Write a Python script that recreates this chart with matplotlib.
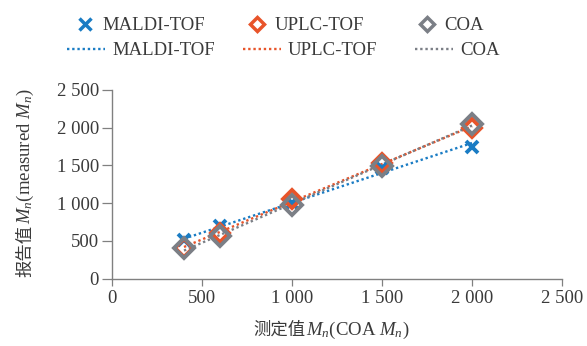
import numpy as np
import matplotlib
matplotlib.use("Agg")
import matplotlib.pyplot as plt
from matplotlib.lines import Line2D

plt.rcParams['font.family'] = ['Liberation Serif', 'Noto Sans CJK SC']
plt.rcParams['mathtext.fontset'] = 'custom'
plt.rcParams['mathtext.rm'] = 'Liberation Serif'
plt.rcParams['mathtext.it'] = 'Liberation Serif:italic'

x = [400, 600, 1000, 1500, 2000]
maldi = [505, 690, 1000, 1470, 1750]
uplc = [410, 600, 1050, 1530, 2000]
coa = [400, 560, 980, 1490, 2050]

ticks = [0, 500, 1000, 1500, 2000, 2500]
tick_labels = ['0', '500', '1 000', '1 500', '2 000', '2 500']
series_names = ['MALDI-TOF', 'UPLC-TOF', 'COA']

c_blue = '#1a7cc4'
c_orange = '#e8542a'
c_gray = '#7b7f86'
txt = '#3a3a3a'
FS = 13.5

W, H = 587, 346
fig = plt.figure(figsize=(W / 100, H / 100), dpi=100)
ax = fig.add_axes([112 / W, 1 - 278.5 / H, 450 / W, 188.5 / H])

ax.plot(x, maldi, linestyle='none', marker='x', markersize=9, mew=2.8,
        color=c_blue, zorder=4)
ax.plot(x, uplc, linestyle='none', marker='D', markersize=9, mew=2.8,
        mfc='none', mec=c_orange, zorder=4)
ax.plot(x, coa, linestyle='none', marker='D', markersize=10, mew=2.8,
        mfc='none', mec=c_gray, zorder=5)

dot = (0, (1, 1.2))
xs = np.array([min(x), max(x)])
for ys, c in [(maldi, c_blue), (uplc, c_orange), (coa, c_gray)]:
    p = np.polyfit(x, ys, 1)
    ax.plot(xs, np.polyval(p, xs), linestyle=dot, lw=1.7, color=c, zorder=3)

# legend entries, each placed individually (pixel positions)
def entry(handle, label, left_px, yc_px, hl, pad):
    lg = fig.legend([handle], [label], loc='center left',
                    bbox_to_anchor=(left_px / W, 1 - yc_px / H), frameon=False,
                    fontsize=FS, handlelength=hl, handletextpad=pad,
                    borderpad=0, borderaxespad=0)
    for t in lg.get_texts():
        t.set_color(txt)

row1 = [
    Line2D([], [], linestyle='none', marker='x', markersize=8, mew=2.5, color=c_blue),
    Line2D([], [], linestyle='none', marker='D', markersize=7, mew=2.5, mfc='none', mec=c_orange),
    Line2D([], [], linestyle='none', marker='D', markersize=7, mew=2.5, mfc='none', mec=c_gray),
]
row1_left = [76, 248, 418]
for hdl, lab, lx in zip(row1, series_names, row1_left):
    entry(hdl, lab, lx, 25.5, 1.0, 0.4)

row2 = [Line2D([], [], linestyle=dot, lw=1.7, color=c) for c in (c_blue, c_orange, c_gray)]
row2_left = [67, 243, 415]
for hdl, lab, lx in zip(row2, series_names, row2_left):
    entry(hdl, lab, lx, 50.5, 2.0, 0.4)

ax.set_xlim(0, 2500)
ax.set_ylim(0, 2500)
ax.set_xticks(ticks)
ax.set_xticklabels(tick_labels)
ax.set_yticks(ticks)
ax.set_yticklabels(tick_labels)
ax.tick_params(labelsize=FS, colors=txt, width=0.9, direction='out')
ax.tick_params(axis='x', length=5, pad=3)
ax.tick_params(axis='y', length=7, pad=2.5)
for s in ['top', 'right']:
    ax.spines[s].set_visible(False)
for s in ['left', 'bottom']:
    ax.spines[s].set_color('#808080')
    ax.spines[s].set_linewidth(1.0)
ax.tick_params(color='#808080')

# axis labels: Chinese part + math part, laid out side by side
renderer = fig.canvas.get_renderer()
cjk = ['Noto Sans CJK SC', 'Liberation Serif']

# x label
xa = fig.text(0, 0, '测定值', fontsize=12.5, family=cjk, color=txt,
              ha='left', va='baseline')
xb = fig.text(0, 0, '$M_n$(COA $M_n$)', fontsize=FS, color=txt,
              ha='left', va='baseline')
wa = xa.get_window_extent(renderer).width
x0 = 253
ybase = 1 - 335 / H
xa.set_position((x0 / W, ybase))
xb.set_position(((x0 + wa + 1) / W, ybase))

# y label
ya = fig.text(0, 0, '报告值', fontsize=12.5, family=cjk, color=txt,
              rotation=90, rotation_mode='anchor', ha='left', va='baseline')
yb = fig.text(0, 0, '$M_n$(measured $M_n$)', fontsize=FS, color=txt,
              rotation=90, rotation_mode='anchor', ha='left', va='baseline')
ha_ = ya.get_window_extent(renderer).height
y0 = H - 277
xbase = 30 / W
ya.set_position((xbase, y0 / H))
yb.set_position((xbase, (y0 + ha_ + 1) / H))

fig.savefig('out.png', dpi=100)
